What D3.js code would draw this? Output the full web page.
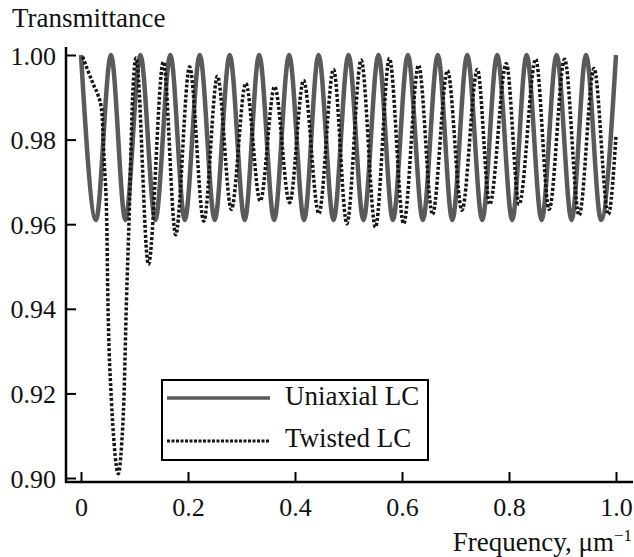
<!DOCTYPE html>
<html>
<head>
<meta charset="utf-8">
<script src="https://cdn.jsdelivr.net/npm/d3@7"></script>
<style>
  body { margin: 0; background: #fff; }
  svg text { font-family: 'Liberation Serif', 'Times New Roman', serif; fill: #111; }
</style>
</head>
<body>
<div class="workspace"></div>
<script>
// uniaxial LC: peaks and troughs
const uniFreq = [0, 0.028, 0.056, 0.083, 0.111, 0.139, 0.167, 0.194, 0.222, 0.25,
  0.278, 0.306, 0.333, 0.361, 0.389, 0.417, 0.444, 0.472, 0.5, 0.528, 0.556,
  0.583, 0.611, 0.639, 0.667, 0.694, 0.722, 0.75, 0.778, 0.806, 0.833, 0.861,
  0.889, 0.917, 0.944, 0.972, 1.0];
const uniT = [1.0, 0.961, 1.0, 0.961, 1.0, 0.961, 1.0, 0.961, 1.0, 0.961,
  1.0, 0.961, 1.0, 0.961, 1.0, 0.961, 1.0, 0.961, 1.0, 0.961, 1.0,
  0.961, 1.0, 0.961, 1.0, 0.961, 1.0, 0.961, 1.0, 0.961, 1.0, 0.961,
  1.0, 0.961, 1.0, 0.961, 1.0];

// twisted LC
const twFreq = [0.003, 0.0125, 0.025, 0.032, 0.039, 0.042, 0.044, 0.048, 0.050,
  0.057, 0.062, 0.0697, 0.076, 0.080, 0.085, 0.090, 0.0966, 0.103, 0.126,
  0.154, 0.177, 0.203, 0.2295, 0.255, 0.281, 0.308, 0.335, 0.362, 0.390,
  0.416, 0.4446, 0.472, 0.497, 0.5236, 0.5504, 0.5765, 0.603, 0.631, 0.657,
  0.685, 0.712, 0.741, 0.764, 0.795, 0.819, 0.850, 0.875, 0.904, 0.931,
  0.959, 0.9856, 1.0];
const twT = [0.9996, 0.9964, 0.9925, 0.9905, 0.9865, 0.9786, 0.9734, 0.9615, 0.944,
  0.918, 0.908, 0.901, 0.908, 0.918, 0.942, 0.9615, 0.9905, 0.9993, 0.9505,
  0.9984, 0.9575, 0.9972, 0.9607, 0.995, 0.9635, 0.9933, 0.9655, 0.9925, 0.9651,
  0.994, 0.9625, 0.9966, 0.9601, 0.9988, 0.9593, 0.9992, 0.9601, 0.9976, 0.9623,
  0.9963, 0.9633, 0.9966, 0.9647, 0.998, 0.9647, 0.999, 0.9635, 0.999, 0.9621,
  0.9968, 0.9623, 0.981];

const xTicks = [0, 0.2, 0.4, 0.6, 0.8, 1.0];
const xTickLabels = ['0', '0.2', '0.4', '0.6', '0.8', '1.0'];
const yTicks = [0.90, 0.92, 0.94, 0.96, 0.98, 1.00];
const legendNames = ['Uniaxial LC', 'Twisted LC'];

const width = 634;
const height = 557;
const axisX = 66;
const axisY = 482;

const svg = d3.select('.workspace')
  .append('svg')
  .attr('width', width)
  .attr('height', height);

const x = d3.scaleLinear().domain([0, 1]).range([81, 616]);
const y = d3.scaleLinear().domain([0.90, 1.00]).range([478, 55]);

// axes lines
svg.append('line')
  .attr('x1', axisX).attr('x2', axisX)
  .attr('y1', 47).attr('y2', axisY + 1)
  .attr('stroke', '#000').attr('stroke-width', 2.5);
svg.append('line')
  .attr('x1', axisX - 1).attr('x2', 633)
  .attr('y1', axisY).attr('y2', axisY)
  .attr('stroke', '#000').attr('stroke-width', 2.5);

const xAxis = svg.append('g')
  .attr('transform', `translate(0,${axisY})`)
  .call(d3.axisBottom(x).tickValues(xTicks)
    .tickFormat((d, i) => xTickLabels[i])
    .tickSizeInner(-10).tickSizeOuter(0));
xAxis.select('.domain').remove();
xAxis.selectAll('line').attr('stroke', '#000').attr('stroke-width', 2);
xAxis.selectAll('text')
  .attr('y', 34).attr('dy', null)
  .attr('font-size', 26).attr('fill', '#111');

const yAxis = svg.append('g')
  .attr('transform', `translate(${axisX},0)`)
  .call(d3.axisLeft(y).tickValues(yTicks)
    .tickFormat(d3.format('.2f'))
    .tickSizeInner(-10).tickSizeOuter(0));
yAxis.select('.domain').remove();
yAxis.selectAll('line').attr('stroke', '#000').attr('stroke-width', 2);
yAxis.selectAll('text')
  .attr('x', -10).attr('dy', null).attr('y', 9)
  .attr('font-size', 26).attr('fill', '#111');

// curves
const uniData = uniFreq.map((f, i) => [f, uniT[i]]);
const twData = twFreq.map((f, i) => [f, twT[i]]);

const line = d3.line()
  .x(d => x(d[0]))
  .y(d => y(d[1]))
  .curve(d3.curveMonotoneX);

svg.append('path')
  .datum(uniData)
  .attr('d', line)
  .attr('fill', 'none')
  .attr('stroke', '#5a5a5a')
  .attr('stroke-width', 4.5);

svg.append('path')
  .datum(twData)
  .attr('d', line)
  .attr('fill', 'none')
  .attr('stroke', '#151515')
  .attr('stroke-width', 3.5)
  .attr('stroke-dasharray', '3,2');

// titles
svg.append('text')
  .attr('x', 12).attr('y', 27)
  .attr('font-size', 27)
  .text('Transmittance');

const xLabel = svg.append('text')
  .attr('x', 632).attr('y', 551)
  .attr('text-anchor', 'end')
  .attr('font-size', 27);
xLabel.append('tspan').text('Frequency, μm');
xLabel.append('tspan').attr('dy', -10).attr('font-size', 17).text('−1');

// legend
const legend = svg.append('g');
legend.append('rect')
  .attr('x', 162).attr('y', 380)
  .attr('width', 266).attr('height', 80)
  .attr('fill', '#fff')
  .attr('stroke', '#000').attr('stroke-width', 2);
legend.append('line')
  .attr('x1', 167).attr('x2', 270)
  .attr('y1', 398).attr('y2', 398)
  .attr('stroke', '#5a5a5a').attr('stroke-width', 3.5);
legend.append('line')
  .attr('x1', 167).attr('x2', 270)
  .attr('y1', 441).attr('y2', 441)
  .attr('stroke', '#151515').attr('stroke-width', 3)
  .attr('stroke-dasharray', '3,1.5');
legend.selectAll('text.name')
  .data(legendNames)
  .enter()
  .append('text')
  .attr('class', 'name')
  .attr('x', 285)
  .attr('y', (d, i) => 405 + i * 42)
  .attr('font-size', 27)
  .text(d => d);
</script>
</body>
</html>
